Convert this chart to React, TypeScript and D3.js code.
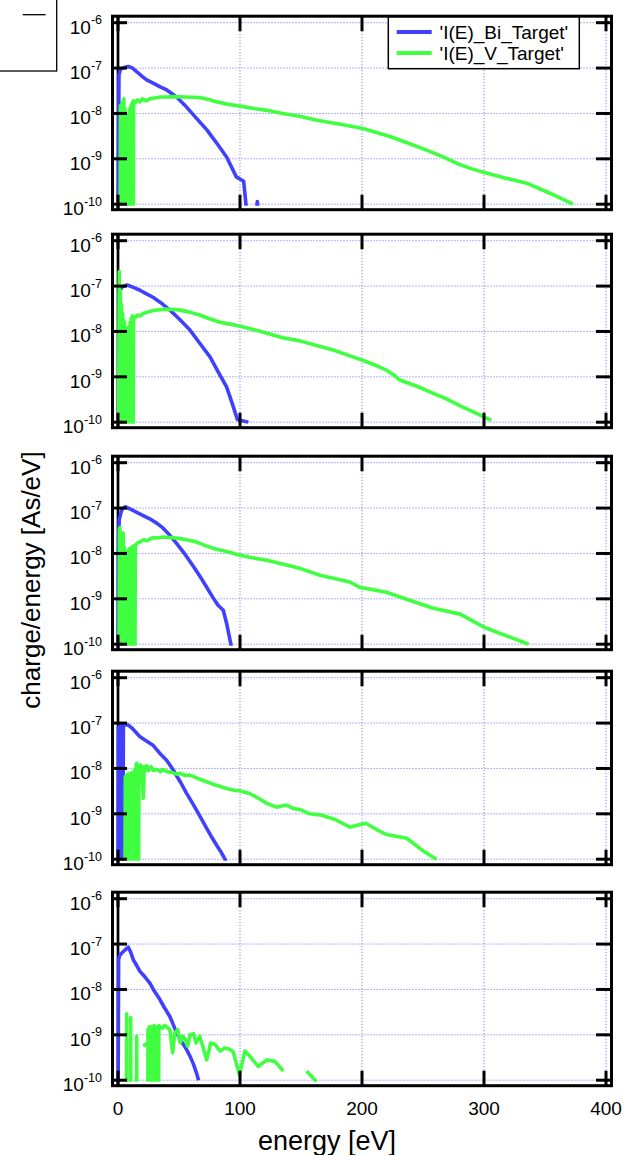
import React from "react";
import * as d3 from "d3";

type Pt = [number, number | null];

// ---------- data ----------
const xTicks = [0, 100, 200, 300, 400];
const yExponents = [-6, -7, -8, -9, -10];
const seriesNames = ["'I(E)_Bi_Target'", "'I(E)_V_Target'"];
const xTitle = "energy [eV]";
const yTitle = "charge/energy [As/eV]";

const p1Bi: Pt[] = [[0,1e-11],[0.8,7e-8],[2,9.5e-8],[4,1.0e-7],[6,1.05e-7],[8.5,1.08e-7],[12,1.0e-7],[16,8e-8],[20,6.5e-8],[23.5,5.5e-8],[30,4.5e-8],[35,3.8e-8],[40,3.3e-8],[48,2.3e-8],[56,1.4e-8],[64,8e-9],[73,4.3e-9],[81,2.2e-9],[89,1.1e-9],[97,4e-10],[103,3.2e-10],[106,5e-11],[113,5e-11],[114.2,1.15e-10],[115.2,5e-11]];
const p1V: Pt[] = [[1.6,1e-12],[2.0,1.5e-8],[2.4,1e-12],[2.9,1.2e-8],[3.3,1e-12],[3.8,1.8e-8],[4.2,1e-12],[4.8,2.1e-8],[5.2,1e-12],[5.7,1.3e-8],[6.1,1e-12],[6.6,3e-9],[7.0,1e-12],[7.5,8e-9],[7.9,1e-12],[8.4,1e-8],[8.8,1e-12],[9.3,1.2e-8],[9.7,1e-12],[10.2,1.4e-8],[10.6,1e-12],[11.1,1.6e-8],[11.5,1e-12],[12.0,1.8e-8],[12.4,1e-12],[12.8,1.9e-8],[14,1.7e-8],[16,2e-8],[18,1.8e-8],[20,2.1e-8],[23,1.9e-8],[26,2.1e-8],[30,2.2e-8],[35,2.3e-8],[40,2.3e-8],[45,2.35e-8],[55,2.3e-8],[67,2.25e-8],[75,2.0e-8],[81,1.8e-8],[90,1.6e-8],[100,1.45e-8],[110,1.3e-8],[122,1.17e-8],[135,1.0e-8],[149,8.7e-9],[163,7.1e-9],[180,5.9e-9],[200,4.7e-9],[223,3.1e-9],[238,2.2e-9],[253,1.55e-9],[265,1.15e-9],[278,7.9e-10],[290,6e-10],[299,5.1e-10],[317,3.8e-10],[335,2.9e-10],[355,1.7e-10],[373,1e-10]];

const p2Bi: Pt[] = [[0,1e-11],[1,7e-8],[3,9.5e-8],[5,1.0e-7],[7,1.05e-7],[10,1.0e-7],[14,9e-8],[18,8.1e-8],[23,6.8e-8],[29,5.6e-8],[35,4.3e-8],[42.6,2.95e-8],[50,1.9e-8],[59,1.07e-8],[67,5.5e-9],[75.4,2.75e-9],[82,1.3e-9],[89,6e-10],[94.5,2.2e-10],[97.8,1.15e-10],[106.8,1.0e-10]];
const p2V: Pt[] = [[0.3,1e-12],[1.0,2.1e-7],[1.4,1e-12],[1.9,8e-8],[2.3,1e-12],[2.8,4e-8],[3.2,1e-12],[3.7,2.5e-8],[4.1,1e-12],[4.6,1.8e-8],[5.0,1e-12],[5.5,1.6e-8],[5.9,1e-12],[6.4,1.2e-8],[6.8,1e-12],[7.3,1e-8],[7.7,1e-12],[8.2,1.1e-8],[8.6,1e-12],[9.1,1.3e-8],[9.5,1e-12],[10.0,1.6e-8],[10.4,1e-12],[10.9,2e-8],[11.3,1e-12],[11.8,2.2e-8],[12.2,1e-12],[12.7,2.1e-8],[14,2.0e-8],[16,2.3e-8],[18,2.2e-8],[21,2.5e-8],[25,2.7e-8],[29,2.9e-8],[34,3.0e-8],[40,3.1e-8],[46,3.05e-8],[51,2.95e-8],[58,2.7e-8],[67,2.3e-8],[75,1.9e-8],[83.6,1.6e-8],[92,1.45e-8],[100,1.3e-8],[111,1.1e-8],[122,9.1e-9],[135,7.3e-9],[149,6.2e-9],[165,4.7e-9],[176.5,3.9e-9],[190,2.9e-9],[200,2.35e-9],[210,1.85e-9],[220,1.4e-9],[226,1.1e-9],[231,8.5e-10],[245,6.2e-10],[258.5,4.3e-10],[270,3.2e-10],[280.5,2.3e-10],[293,1.6e-10],[306,1.1e-10]];

const p3Bi: Pt[] = [[0,1e-11],[0.5,2e-8],[1,5.5e-8],[3,9.1e-8],[5.7,1.07e-7],[9,9.8e-8],[12.6,8.8e-8],[19,7.2e-8],[26,5.8e-8],[32,4.6e-8],[37,3.6e-8],[42,2.6e-8],[48,1.66e-8],[55,9.5e-9],[62,5.1e-9],[67,3.2e-9],[72.7,1.8e-9],[78,1.05e-9],[82,7.2e-10],[86.3,5.6e-10],[89,2.9e-10],[92.5,1e-10],[94,5e-11]];
const p3V: Pt[] = [[0.5,1e-12],[1.2,3.5e-8],[1.6,3.7e-8],[2.0,1e-12],[2.5,1.5e-8],[2.9,1e-12],[3.4,1.2e-8],[3.8,1e-12],[4.3,2.8e-8],[4.7,1e-12],[5.2,1.4e-8],[5.6,1e-12],[6.1,9e-9],[6.5,1e-12],[7.0,1.1e-8],[7.4,1e-12],[7.9,1e-8],[8.3,1e-12],[8.8,1.2e-8],[9.2,1e-12],[9.7,1.3e-8],[10.1,1e-12],[10.6,1.1e-8],[11.0,1e-12],[11.5,1.4e-8],[11.9,1e-12],[12.4,1.3e-8],[12.8,1e-12],[13.3,1.5e-8],[13.7,1e-12],[14.2,1.5e-8],[16,1.7e-8],[18,1.8e-8],[21,2.0e-8],[24,1.9e-8],[28,2.2e-8],[32,2.2e-8],[37,2.3e-8],[42.6,2.25e-8],[50,2.15e-8],[56,2.0e-8],[64,1.8e-8],[72.7,1.45e-8],[80,1.25e-8],[89,1.1e-8],[100,9.1e-9],[110,8.0e-9],[122,7.1e-9],[133,6e-9],[144,5.1e-9],[149,4.7e-9],[165.6,3.3e-9],[190,2.35e-9],[199,1.75e-9],[203,1.7e-9],[220,1.4e-9],[239,9.3e-10],[258.5,6.2e-10],[280.5,4.6e-10],[299.5,2.4e-10],[308,1.95e-10],[336.6,1e-10]];

const p4Bi: Pt[] = [[0,1e-11],[0.4,8e-8],[0.8,1e-11],[1.2,8.5e-8],[1.6,1e-11],[2.0,9e-8],[2.4,1e-11],[2.8,9e-8],[3.2,1e-11],[3.6,9e-8],[4.0,1e-11],[4.4,9.1e-8],[6,9.2e-8],[8.5,9e-8],[12,7.5e-8],[18,5e-8],[23,4.1e-8],[29,3.2e-8],[34,2.2e-8],[40,1.5e-8],[45,9.5e-9],[51,5.1e-9],[56,2.9e-9],[62,1.55e-9],[67,9e-10],[72.7,4.8e-10],[77,3e-10],[81,2e-10],[84,1.5e-10],[87.7,1e-10],[89,7e-11]];
const p4V: Pt[] = [[5.5,1e-12],[6.0,6.6e-9],[6.4,1e-12],[6.9,7e-9],[7.3,1e-12],[7.8,7.5e-9],[8.2,1e-12],[8.7,7.2e-9],[9.1,1e-12],[9.6,7.8e-9],[10.0,1e-12],[10.5,7e-9],[10.9,1e-12],[11.4,8e-9],[11.8,1e-12],[12.3,7.5e-9],[12.7,1e-12],[13.2,9e-9],[13.6,1e-12],[14.1,1e-8],[14.5,1e-12],[15.0,1.2e-8],[15.4,1.3e-8],[15.8,1e-12],[16.3,1.1e-8],[16.7,1e-12],[17.2,1.1e-8],[18.5,1.2e-8],[19.5,1e-8],[20.8,2.2e-9],[21.5,1.1e-8],[22.5,9e-9],[23.5,1.15e-8],[25,9e-9],[27,1.1e-8],[29,9e-9],[32,9.5e-9],[35,8.5e-9],[37,9.5e-9],[40,8.5e-9],[44,8.2e-9],[48,7.5e-9],[51,7.8e-9],[55,7e-9],[58,7.2e-9],[62,6.6e-9],[67,5.8e-9],[72.7,5.1e-9],[80,4.3e-9],[89,3.6e-9],[95,3.3e-9],[100,3.2e-9],[108,2.8e-9],[115,2.2e-9],[122,1.7e-9],[130,1.4e-9],[135,1.5e-9],[138,1.55e-9],[144,1.3e-9],[149,1.25e-9],[157,1.0e-9],[165.6,9.5e-10],[178,7.5e-10],[190,5.1e-10],[203,6.2e-10],[212,4.5e-10],[220,3.5e-10],[236.7,2.9e-10],[249,1.6e-10],[261,1e-10]];

const p5Bi: Pt[] = [[0,1e-11],[0.5,4.5e-8],[1.2,5.5e-8],[3,6.3e-8],[5.7,7.4e-8],[8.5,8.5e-8],[10.5,6.5e-8],[12.6,4.5e-8],[15,3.5e-8],[18,2.5e-8],[22,1.9e-8],[26,1.4e-8],[30,9e-9],[34,6.2e-9],[38,4e-9],[42.6,2.5e-9],[47,1.3e-9],[51,7.8e-10],[55,5.4e-10],[59,3.4e-10],[62,2.2e-10],[64.5,1.4e-10],[66,1e-10]];
const p5V: Pt[] = [[6.8,1e-13],[7.1,2.9e-9],[7.4,1e-13],[10.1,1e-13],[10.4,2.4e-9],[10.7,1e-13],[15.0,1e-13],[15.3,9.3e-10],[15.6,1e-13],[18,null],[20.8,5.6e-10],[23.5,6.5e-10],[23.8,null],[24.2,1e-13],[24.6,1.3e-9],[25.0,1e-13],[25.6,1.5e-9],[26.0,1e-13],[26.6,1.2e-9],[27.0,1e-13],[27.6,1.5e-9],[28.0,1e-13],[28.6,1.4e-9],[29.0,1e-13],[29.6,1.6e-9],[30.0,1e-13],[30.6,1.2e-9],[31.0,1e-13],[31.6,1.5e-9],[32.0,1e-13],[32.6,1.3e-9],[33.0,1e-13],[33.5,1.6e-9],[34.5,1.5e-9],[36.5,1.4e-9],[38,1.6e-9],[40,1.5e-9],[42.5,1.3e-9],[44.8,4e-10],[46.5,1.1e-9],[49,1.3e-9],[51,6.6e-10],[53,9.3e-10],[55,8e-10],[57,5.6e-10],[59,1e-9],[62,1.05e-9],[64,6.6e-10],[67,9.3e-10],[69.5,5.6e-10],[72.7,2.8e-10],[76,6.6e-10],[79.5,6.2e-10],[83.6,4.4e-10],[87.5,5.1e-10],[91.5,4.8e-10],[94.5,4.2e-10],[99.5,1.3e-10],[104,4.4e-10],[108,3.4e-10],[115,2e-10],[122,2.8e-10],[128.6,2.6e-10],[135.5,1.6e-10],[145,null],[154.6,1.6e-10],[161.5,1e-10],[163,6e-11]];

const panels: { bi: Pt[]; v: Pt[] }[] = [
  { bi: p1Bi, v: p1V },
  { bi: p2Bi, v: p2V },
  { bi: p3Bi, v: p3V },
  { bi: p4Bi, v: p4V },
  { bi: p5Bi, v: p5V },
];

// ---------- layout ----------
const W = 631;
const H = 1155;
const FONT = "'Liberation Sans', Arial, Helvetica, sans-serif";
const BLUE = "#4040ff";
const GREEN = "#40ff40";
const GRID = "#6666ff";
const panelTops = [22.7, 240.7, 462.7, 677.7, 898.7];
const plotH = 181.5;
const x = d3.scaleLinear().domain([0, 400]).range([118, 606]);
const frameL = 112.5;
const frameR = 611.5;

function Panel({ idx }: { idx: number }) {
  const top = panelTops[idx];
  const y = d3.scaleLog().domain([1e-6, 1e-10]).range([top, top + plotH]);
  const fTop = top - 6.5;
  const fBot = top + plotH + 5.5;
  const line = d3
    .line<Pt>()
    .defined((d) => d[1] != null)
    .x((d) => x(d[0]))
    .y((d) => y(d[1] as number));
  const p = panels[idx];
  const clipId = `clip${idx}`;
  return (
    <g>
      <defs>
        <clipPath id={clipId}>
          <rect x={x(0) - 3} y={top - 2} width={x(400) - x(0) + 6} height={plotH + 3.5} />
        </clipPath>
      </defs>
      {yExponents.map((e) => (
        <line key={"gy" + e} x1={frameL} x2={frameR} y1={y(Math.pow(10, e))} y2={y(Math.pow(10, e))}
          stroke={GRID} strokeWidth={1} strokeDasharray="1,2" />
      ))}
      {xTicks.filter((t) => t > 0).map((t) => (
        <line key={"gx" + t} x1={x(t)} x2={x(t)} y1={fTop} y2={fBot}
          stroke={GRID} strokeWidth={1} strokeDasharray="1,2" />
      ))}
      <line x1={x(0)} x2={x(0)} y1={fTop} y2={fBot} stroke="#000" strokeWidth={2.7} />
      <g clipPath={`url(#${clipId})`}>
        <path d={line(p.bi) || ""} fill="none" stroke={BLUE} strokeWidth={3.6} strokeLinejoin="round" />
        <path d={line(p.v) || ""} fill="none" stroke={GREEN} strokeWidth={3.6} strokeLinejoin="round" />
      </g>
      <rect x={frameL} y={fTop} width={frameR - frameL} height={fBot - fTop} fill="none" stroke="#000" strokeWidth={3} />
      {yExponents.map((e) => {
        const yy = y(Math.pow(10, e));
        return (
          <g key={"ty" + e}>
            <line x1={frameL} x2={frameL + 14.5} y1={yy} y2={yy} stroke="#000" strokeWidth={3} />
            <line x1={frameR} x2={frameR - 15.5} y1={yy} y2={yy} stroke="#000" strokeWidth={3} />
            <text x={102} y={yy + 11} textAnchor="end" fontSize={19} fontFamily={FONT} fill="#000">
              10
              <tspan dy={-9.5} fontSize={12.5}>{String(e)}</tspan>
            </text>
          </g>
        );
      })}
      {xTicks.map((t) => (
        <g key={"tx" + t}>
          <line x1={x(t)} x2={x(t)} y1={fTop} y2={fTop + 15} stroke="#000" strokeWidth={3} />
          <line x1={x(t)} x2={x(t)} y1={fBot} y2={fBot - 15} stroke="#000" strokeWidth={3} />
        </g>
      ))}
      {idx === 4 &&
        xTicks.map((t) => (
          <text key={"lx" + t} x={x(t)} y={1115} textAnchor="middle" fontSize={19} fontFamily={FONT} fill="#000">
            {t}
          </text>
        ))}
    </g>
  );
}

function Legend() {
  const bx = 388.3, by = 17, bw = 191, bh = 51.7;
  const rows = [
    { name: seriesNames[0], color: BLUE, y: 32 },
    { name: seriesNames[1], color: GREEN, y: 53 },
  ];
  return (
    <g>
      <rect x={bx} y={by} width={bw} height={bh} fill="#fff" stroke="#000" strokeWidth={1.5} />
      {rows.map((r) => (
        <g key={r.name}>
          <line x1={396.7} x2={431.7} y1={r.y} y2={r.y} stroke={r.color} strokeWidth={4} />
          <text x={439.5} y={r.y + 6.5} fontSize={19} fontFamily={FONT} fill="#000">{r.name}</text>
        </g>
      ))}
    </g>
  );
}

export default function App() {
  return (
    <svg width={W} height={H} viewBox={`0 0 ${W} ${H}`}
      style={{ position: "absolute", left: 0, top: 0, display: "block", background: "#fff" }}>
      <rect x={0} y={0} width={W} height={H} fill="#fff" />
      <rect x={-5} y={-5} width={61.7} height={76} fill="none" stroke="#000" strokeWidth={1.3} />
      <line x1={22.7} x2={45.7} y1={14.7} y2={14.7} stroke="#000" strokeWidth={1.3} />
      {panelTops.map((_, i) => (
        <Panel key={i} idx={i} />
      ))}
      <Legend />
      <text transform="translate(40,580) rotate(-90)" textAnchor="middle" fontSize={26} fontFamily={FONT} fill="#000">
        {yTitle}
      </text>
      <text x={327} y={1150} textAnchor="middle" fontSize={27} fontFamily={FONT} fill="#000">
        {xTitle}
      </text>
    </svg>
  );
}
